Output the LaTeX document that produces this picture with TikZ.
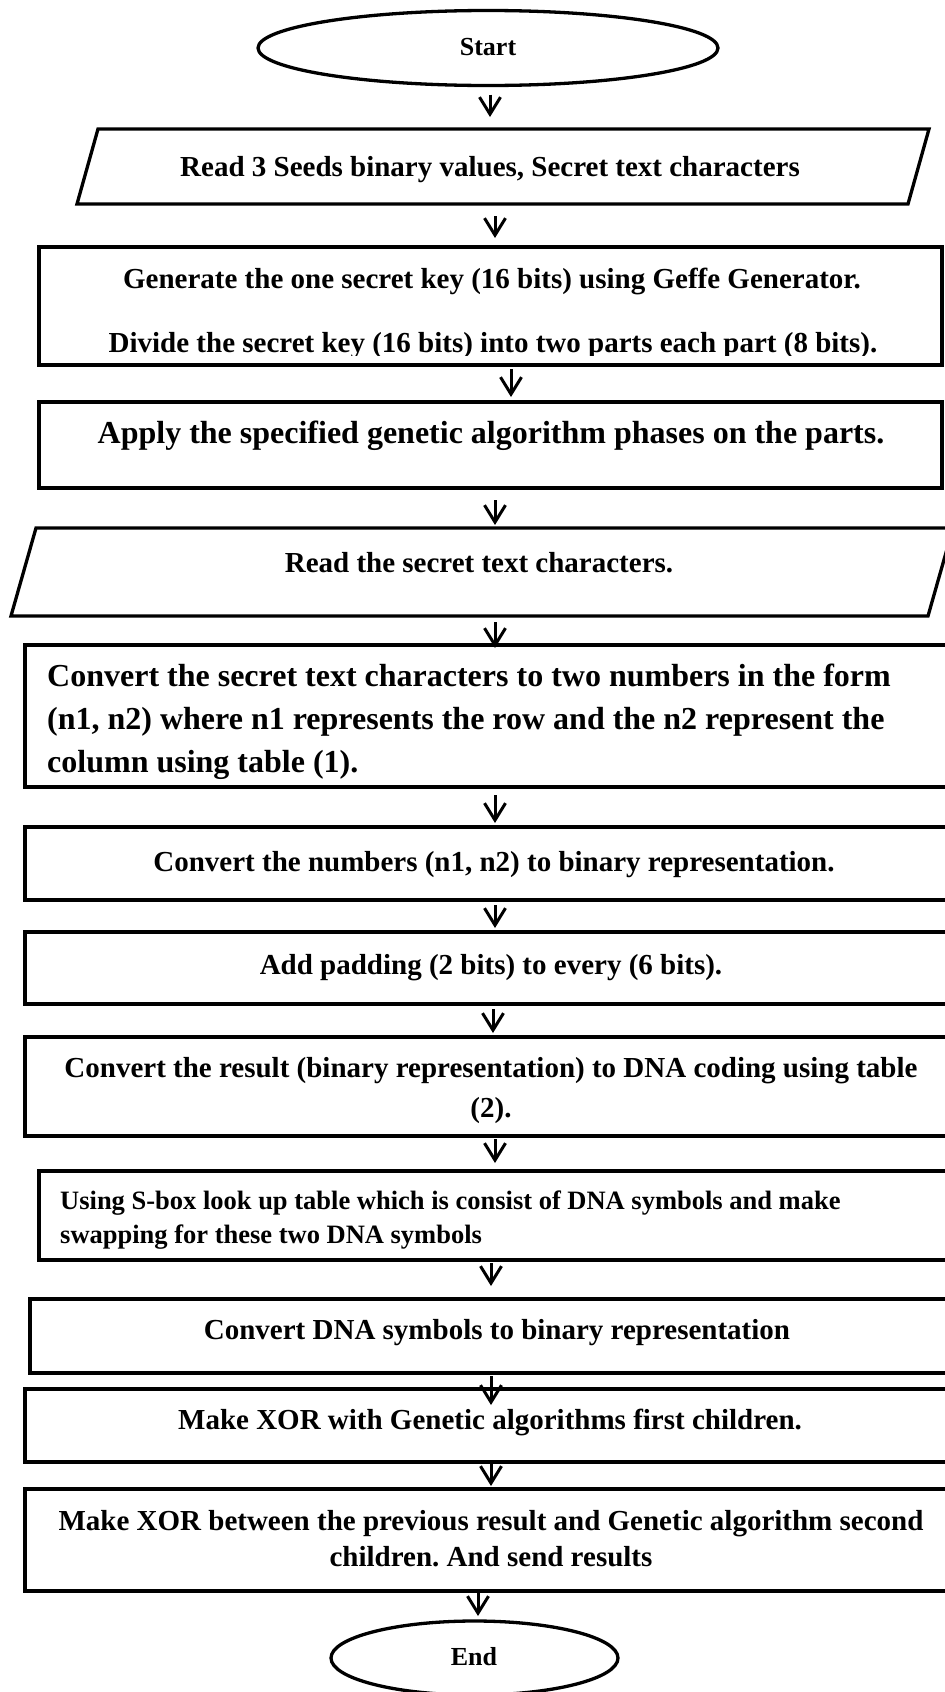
\documentclass[tikz,border=0pt]{standalone}
\usepackage{fontspec}
\setmainfont{Liberation Serif}
\usetikzlibrary{arrows.meta,shapes.geometric}
\frenchspacing

\tikzset{
  frame/.style={draw, line width=3.3pt, inner sep=0pt, outer sep=0pt},
  boxnode/.style={frame, rectangle},
  termnode/.style={frame, ellipse},
  ghost/.style={rectangle, inner sep=0pt, outer sep=0pt},
  slanted/.style={line width=3.3pt, line join=miter},
  txt/.style={inner sep=0pt, anchor=base, font=\bfseries\fontsize{29}{34}\selectfont},
  bigtxt/.style={txt, font=\bfseries\fontsize{32}{38}\selectfont},
  smalltxt/.style={txt, font=\bfseries\fontsize{26.5}{31}\selectfont},
  termtxt/.style={txt, font=\bfseries\fontsize{26}{31}\selectfont},
  flow/.style={line width=3pt, -{Straight Barb[length=17pt,width=21pt]}}
}

\begin{document}
\begin{tikzpicture}[x=1pt, y=-1pt]
\useasboundingbox (0,0) rectangle (945,1692);
\clip (0,0) rectangle (945,1692);

% terminals
\node[termnode, minimum width=460pt, minimum height=75pt] (start) at (488,48) {};
\node[termtxt] (starttxt) at (488,55) {Start};

% input: seeds and text
\node[ghost, minimum width=852pt, minimum height=75pt] (in1) at (503,166.5) {};
\draw[slanted]
  ([xshift=21pt]in1.north west) -- (in1.north east)
  -- ([xshift=-21pt]in1.south east) -- (in1.south west) -- cycle;
\node[txt] (in1txt) at (490,176.6) {Read 3 Seeds binary values, Secret text characters};

% key generation
\node[boxnode, minimum width=903pt, minimum height=118pt] (key) at (490.5,306) {};
\node[txt] (keytxta) at (492,288.6) {Generate the one secret key (16 bits) using Geffe Generator.};
\begin{scope}
  \clip ([xshift=2pt,yshift=-2pt]key.north west) rectangle ([xshift=-2pt,yshift=10pt]key.south east);
  \node[txt] (keytxtb) at (493,352.6) {Divide the secret key (16 bits) into two parts each part (8 bits).};
\end{scope}

% genetic phases
\node[boxnode, minimum width=903pt, minimum height=86pt] (gen) at (490.5,445) {};
\node[bigtxt] (gentxt) at (491,443.6) {Apply the specified genetic algorithm phases on the parts.};

% input: secret text
\node[ghost, minimum width=942pt, minimum height=88pt] (in2) at (482,572) {};
\draw[slanted]
  ([xshift=25pt]in2.north west) -- (in2.north east)
  -- ([xshift=-25pt]in2.south east) -- (in2.south west) -- cycle;
\node[txt] (in2txt) at (479,572.6) {Read the secret text characters.};

% character to (n1, n2)
\node[boxnode, minimum width=935pt, minimum height=142pt] (conv) at (492.5,716) {};
\node[bigtxt, anchor=base west] (convtxta) at (47,686.6) {Convert the secret text characters to two numbers in the form};
\node[bigtxt, anchor=base west] (convtxtb) at (47,729.6) {(n1, n2) where n1 represents the row and the n2 represent the};
\node[bigtxt, anchor=base west] (convtxtc) at (47,772.6) {column using table (1).};

% binary representation
\node[boxnode, minimum width=935pt, minimum height=73pt] (bin) at (492.5,863.5) {};
\node[txt] (bintxt) at (494,871.6) {Convert the numbers (n1, n2) to binary representation.};

% padding
\node[boxnode, minimum width=935pt, minimum height=72pt] (pad) at (492.5,968) {};
\node[txt] (padtxt) at (491,974.6) {Add padding (2 bits) to every (6 bits).};

% DNA coding
\node[boxnode, minimum width=935pt, minimum height=99pt] (dna) at (492.5,1086.5) {};
\node[txt] (dnatxta) at (491,1077.6) {Convert the result (binary representation) to DNA coding using table};
\node[txt] (dnatxtb) at (491,1117.6) {(2).};

% S-box
\node[boxnode, minimum width=921pt, minimum height=89pt] (sbox) at (499.5,1215.5) {};
\node[smalltxt, anchor=base west] (sboxtxta) at (60,1209.7) {Using S-box look up table which is consist of DNA symbols and make};
\node[smalltxt, anchor=base west] (sboxtxtb) at (60,1243.7) {swapping for these two DNA symbols};

% DNA to binary
\node[boxnode, minimum width=930pt, minimum height=74pt] (back) at (495,1336) {};
\node[txt] (backtxt) at (497,1339.6) {Convert DNA symbols to binary representation};

% first XOR
\node[boxnode, minimum width=935pt, minimum height=73pt] (xora) at (492.5,1425.5) {};
\node[txt] (xoratxt) at (490,1429.6) {Make XOR with Genetic algorithms first children.};

% second XOR
\node[boxnode, minimum width=935pt, minimum height=102pt] (xorb) at (492.5,1540) {};
\node[txt] (xorbtxta) at (491,1530.6) {Make XOR between the previous result and Genetic algorithm second};
\node[txt] (xorbtxtb) at (491,1566.6) {children. And send results};

\node[termnode, minimum width=287pt, minimum height=74pt] (end) at (474.5,1658) {};
\node[termtxt] (endtxt) at (474,1665.6) {End};

% flow arrows
\draw[flow] ([xshift=2pt,yshift=-9pt]start.south) -- ([xshift=-13pt,yshift=12pt]in1.north);
\draw[flow] ([xshift=-8pt,yshift=-12pt]in1.south) -- ([xshift=4.5pt,yshift=9pt]key.north);
\draw[flow] ([xshift=20.5pt,yshift=-4pt]key.south) -- ([xshift=20.5pt,yshift=5pt]gen.north);
\draw[flow] ([xshift=4.5pt,yshift=-12pt]gen.south) -- ([xshift=13pt,yshift=3pt]in2.north);
\draw[flow] ([xshift=13pt,yshift=-6pt]in2.south) -- ([xshift=2.5pt,yshift=-3pt]conv.north);
\draw[flow] ([xshift=2.5pt,yshift=-8pt]conv.south) -- ([xshift=2.5pt,yshift=4pt]bin.north);
\draw[flow] ([xshift=2.5pt,yshift=-5pt]bin.south) -- ([xshift=2.5pt,yshift=4pt]pad.north);
\draw[flow] ([xshift=0.5pt,yshift=-5pt]pad.south) -- ([xshift=0.5pt,yshift=4pt]dna.north);
\draw[flow] ([xshift=2.5pt,yshift=-3pt]dna.south) -- ([xshift=-4.5pt,yshift=8pt]sbox.north);
\draw[flow] ([xshift=-8.5pt,yshift=-3pt]sbox.south) -- ([xshift=-4pt,yshift=13pt]back.north);
\draw[flow] ([xshift=-4pt,yshift=-3pt]back.south) -- ([xshift=-1.5pt,yshift=-16pt]xora.north);
\draw[flow] ([xshift=-1.5pt,yshift=1pt]xora.south) -- ([xshift=-1.5pt,yshift=3pt]xorb.north);
\draw[flow] ([xshift=-14.5pt,yshift=-2pt]xorb.south) -- ([xshift=3.5pt,yshift=5pt]end.north);
\end{tikzpicture}
\end{document}
